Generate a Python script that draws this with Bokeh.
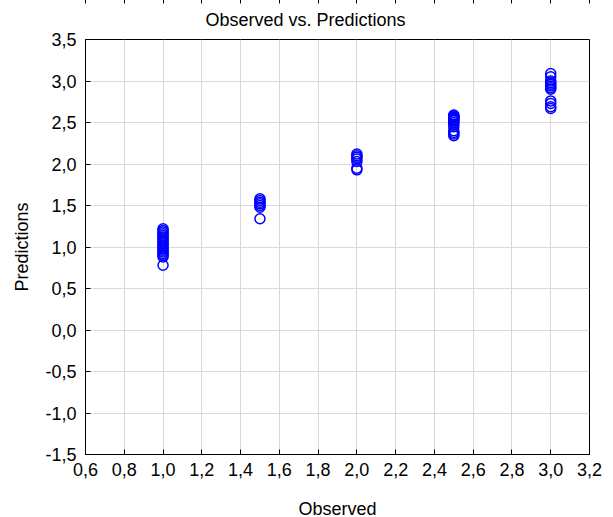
from bokeh.plotting import figure
from bokeh.models import FixedTicker, LinearAxis, Title, CustomJSTickFormatter
from bokeh.embed import file_html
from bokeh.resources import INLINE

# Data
obs_1 = [1.0] * 19
pred_1 = [1.22, 1.20, 1.18, 1.16, 1.14, 1.12, 1.10, 1.08, 1.06, 1.04,
          1.02, 1.00, 0.98, 0.96, 0.94, 0.92, 0.90, 0.88, 0.78]
obs_15 = [1.5] * 7
pred_15 = [1.58, 1.56, 1.54, 1.52, 1.50, 1.48, 1.34]
obs_2 = [2.0] * 7
pred_2 = [2.12, 2.10, 2.08, 2.06, 2.03, 1.95, 1.93]
obs_25 = [2.5] * 15
pred_25 = [2.59, 2.58, 2.57, 2.56, 2.55, 2.54, 2.53, 2.52, 2.50, 2.48,
           2.45, 2.40, 2.38, 2.36, 2.34]
obs_3 = [3.0] * 12
pred_3 = [3.09, 3.05, 3.00, 2.98, 2.96, 2.94, 2.92, 2.90, 2.76, 2.73, 2.69, 2.67]

x_ticks = [0.6, 0.8, 1.0, 1.2, 1.4, 1.6, 1.8, 2.0, 2.2, 2.4, 2.6, 2.8, 3.0, 3.2]
x_tick_labels = ["0,6", "0,8", "1,0", "1,2", "1,4", "1,6", "1,8", "2,0",
                 "2,2", "2,4", "2,6", "2,8", "3,0", "3,2"]
y_ticks = [-1.5, -1.0, -0.5, 0.0, 0.5, 1.0, 1.5, 2.0, 2.5, 3.0, 3.5]
y_tick_labels = ["-1,5", "-1,0", "-0,5", "0,0", "0,5", "1,0", "1,5", "2,0",
                 "2,5", "3,0", "3,5"]

observed = obs_1 + obs_15 + obs_2 + obs_25 + obs_3
predicted = pred_1 + pred_15 + pred_2 + pred_25 + pred_3

FONT = "Liberation Sans"
FS = "18px"

p = figure(frame_width=504, frame_height=415, output_backend="svg",
           toolbar_location=None,
           x_range=(0.6, 3.2), y_range=(-1.5, 3.5),
           min_border_left=0, min_border_right=14, min_border_top=0,
           min_border_bottom=0, title=None)
p.margin = (-2, 0, -10, 9)

t = Title(text="Observed vs. Predictions", align="left", offset=120,
          text_font=FONT, text_font_size=FS, text_font_style="normal",
          text_color="black", standoff=19)
p.add_layout(t, "above")

p.scatter(observed, predicted, marker="circle", size=10, line_color="#0000ff",
          line_width=1.5, fill_color="white", fill_alpha=0.0)

p.outline_line_color = "black"
p.outline_line_width = 1
p.outline_line_alpha = 1

for ax, ticks, labels in ((p.xaxis[0], x_ticks, x_tick_labels),
                          (p.yaxis[0], y_ticks, y_tick_labels)):
    ax.ticker = FixedTicker(ticks=ticks)
    ax.major_label_overrides = {t_: l for t_, l in zip(ticks, labels)}
    ax.minor_tick_line_color = None
    ax.major_tick_in = 5
    ax.major_tick_out = 0
    ax.major_tick_line_color = "black"
    ax.axis_line_color = "black"
    ax.major_label_text_font = FONT
    ax.major_label_text_font_size = FS
    ax.major_label_text_color = "black"
    ax.axis_label_text_font = FONT
    ax.axis_label_text_font_size = FS
    ax.axis_label_text_font_style = "normal"
    ax.axis_label_text_color = "black"

p.xaxis.axis_label = "Observed"
p.yaxis.axis_label = "Predictions"
p.xaxis.major_label_standoff = 8
p.yaxis.major_label_standoff = 9
p.xaxis.axis_label_standoff = 20
p.yaxis.axis_label_standoff = 10

top = LinearAxis(ticker=FixedTicker(ticks=x_ticks), major_tick_in=5,
                 major_tick_out=0, minor_tick_line_color=None,
                 formatter=CustomJSTickFormatter(code="return ''"),
                 major_label_standoff=0, axis_line_color="black")
p.add_layout(top, "above")

p.xgrid.ticker = FixedTicker(ticks=x_ticks)
p.ygrid.ticker = FixedTicker(ticks=y_ticks)
p.grid.grid_line_color = "#d9d9d9"
p.grid.grid_line_width = 1

open("out.html", "w").write(file_html(p, INLINE))
